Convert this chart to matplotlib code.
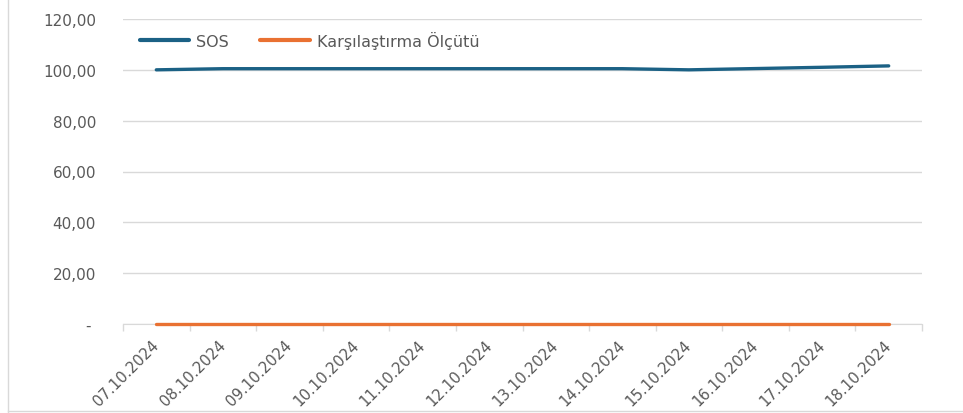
import matplotlib.pyplot as plt
from matplotlib.lines import Line2D
from matplotlib.ticker import FuncFormatter, FixedLocator
from matplotlib.transforms import ScaledTranslation
import numpy as np

dates = ['07.10.2024', '08.10.2024', '09.10.2024', '10.10.2024', '11.10.2024', '12.10.2024',
         '13.10.2024', '14.10.2024', '15.10.2024', '16.10.2024', '17.10.2024', '18.10.2024']
sos = [100.0, 100.45, 100.45, 100.45, 100.45, 100.45, 100.45, 100.45, 100.0, 100.5, 101.0, 101.55]
benchmark = [0, 0, 0, 0, 0, 0, 0, 0, 0, 0, 0, 0]

SOS_COLOR = '#1b6185'
BENCH_COLOR = '#e97132'
TEXT_COLOR = '#595959'
GRID_COLOR = '#d9d9d9'

plt.rcParams['font.family'] = ['DejaVu Sans']

fig = plt.figure(figsize=(9.63, 4.14), dpi=100)
ax = fig.add_axes([123 / 963, 1 - 325 / 414, 799 / 963, 305 / 414])

x = np.arange(len(dates))
ax.plot(x, sos, color=SOS_COLOR, lw=2.4, solid_capstyle='round', zorder=3)
ax.plot(x, benchmark, color=BENCH_COLOR, lw=2.4, solid_capstyle='round',
        zorder=3, clip_on=False)

ax.set_xlim(-0.5, len(dates) - 0.5)
ax.set_ylim(0, 120)
ax.set_yticks(np.arange(0, 121, 20))
ax.yaxis.set_major_formatter(FuncFormatter(
    lambda v, p: '- ' if v == 0 else f'{v:.2f}'.replace('.', ',')))
ax.grid(axis='y', color=GRID_COLOR, lw=1)
ax.set_axisbelow(True)

ax.set_xticks(x)
ax.set_xticklabels(dates, rotation=45, ha='right', rotation_mode='anchor')
ax.xaxis.set_minor_locator(FixedLocator(np.arange(-0.5, len(dates), 1)))
ax.tick_params(axis='x', which='major', length=0, pad=9, labelsize=10.8, labelcolor=TEXT_COLOR)
ax.tick_params(axis='x', which='minor', length=5, color=GRID_COLOR, width=1)
ax.tick_params(axis='y', length=0, pad=19.5, labelsize=11, labelcolor=TEXT_COLOR)

# nudge the rotated date labels a little to the left
shift = ScaledTranslation(-5 / 100, 0, fig.dpi_scale_trans)
for lbl in ax.get_xticklabels():
    lbl.set_transform(lbl.get_transform() + shift)

for s in ['top', 'right', 'left']:
    ax.spines[s].set_visible(False)
ax.spines['bottom'].set_color(GRID_COLOR)

handles = [Line2D([], [], color=SOS_COLOR, lw=3, solid_capstyle='round'),
           Line2D([], [], color=BENCH_COLOR, lw=3, solid_capstyle='round')]
ax.legend(handles, ['SOS', 'Karşılaştırma Ölçütü'], loc='center left', ncol=2,
          bbox_to_anchor=(0.021, 0.931), borderpad=0, borderaxespad=0,
          frameon=False, fontsize=11.5, labelcolor=TEXT_COLOR,
          handlelength=3.1, columnspacing=1.95, handletextpad=0.45)

# chart-area border (left and bottom visible)
fig.add_artist(Line2D([8 / 963, 8 / 963], [0, 1], color=GRID_COLOR, lw=1))
fig.add_artist(Line2D([8 / 963, 1], [2 / 414, 2 / 414], color=GRID_COLOR, lw=1))

fig.savefig('out.png', dpi=100)
